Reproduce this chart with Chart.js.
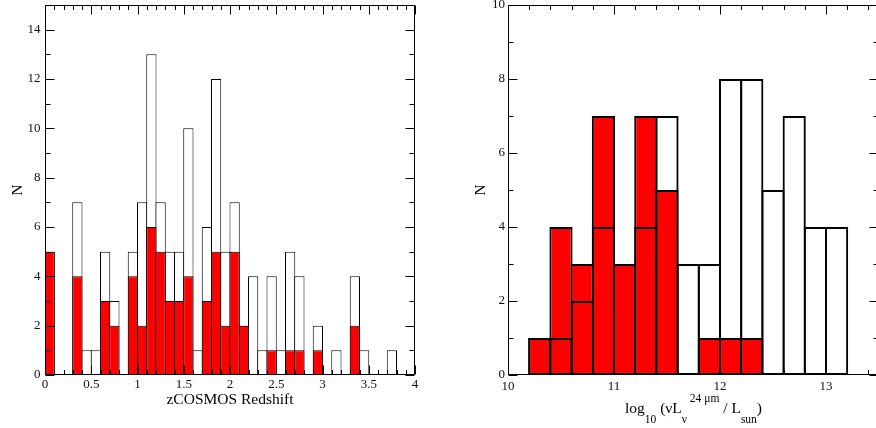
<!DOCTYPE html>
<html><head><meta charset="utf-8">
<script src="https://cdn.jsdelivr.net/npm/chart.js@4.4.1/dist/chart.umd.min.js"></script>
<style>
html,body{margin:0;padding:0;background:#fff;overflow:hidden;width:876px;height:428px;}
#c1{position:absolute;left:0;top:0;}
#c2{position:absolute;left:440px;top:0;}
</style></head><body>
<canvas id="c1" width="440" height="428"></canvas>
<canvas id="c2" width="445" height="428"></canvas>
<script>
// ---------- Left panel: zCOSMOS redshift histogram (bin width 0.1) ----------
const zBinCenters = [0.05,0.15,0.25,0.35,0.45,0.55,0.65,0.75,0.85,0.95,
                     1.05,1.15,1.25,1.35,1.45,1.55,1.65,1.75,1.85,1.95,
                     2.05,2.15,2.25,2.35,2.45,2.55,2.65,2.75,2.85,2.95,
                     3.05,3.15,3.25,3.35,3.45,3.55,3.65,3.75,3.85,3.95];
const zAll = [5,0,0,7,1,1,5,3,0,5, 7,13,7,5,5,10,1,6,12,5, 7,2,4,1,4,1,5,4,0,2, 0,1,0,4,1,0,0,1,0,0];
const zRed = [5,0,0,4,0,0,3,2,0,4, 2,6,5,3,3,4,0,3,5,2, 5,2,0,0,1,0,1,1,0,1, 0,0,0,2,0,0,0,0,0,0];
const zXTicks = [0,0.5,1,1.5,2,2.5,3,3.5,4];
const zYTicks = [0,2,4,6,8,10,12,14];

// ---------- Right panel: log10 luminosity histogram (bin width 0.2) ----------
const lBinCenters = [10.1,10.3,10.5,10.7,10.9,11.1,11.3,11.5,11.7,11.9,12.1,12.3,12.5,12.7,12.9,13.1];
const lAll = [0,1,1,2,4,3,4,7,3,3,8,8,5,7,4,4];
const lRed = [0,1,4,3,7,3,7,5,0,1,1,1,0,0,0,0];
const lXTicks = [10,11,12,13];
const lYTicks = [0,2,4,6,8,10];

const SERIF = "'Liberation Serif', 'Times New Roman', serif";

function framePlugin(minorX, minorY) {
  return {
    id: 'frameTicks',
    afterDatasetsDraw(chart) {
      const {ctx, chartArea: a, scales: {x, y}} = chart;
      const L = Math.round(a.left) + 0.5, R = Math.round(a.right) - 0.5;
      const T = Math.round(a.top) + 0.5, B = Math.round(a.bottom) - 0.5;
      ctx.save();
      ctx.strokeStyle = '#000';
      ctx.lineWidth = 1;
      ctx.beginPath();
      const xMajor = x.ticks.map(t => t.value);
      const yMajor = y.ticks.map(t => t.value);
      const isMajor = (arr, v) => arr.some(m => Math.abs(m - v) < 1e-6);
      for (let k = 0; ; k++) {
        const v = +(x.min + k * minorX).toFixed(6);
        if (v > x.max + 1e-9) break;
        const len = isMajor(xMajor, v) ? 9 : 4.5;
        const px = Math.round(x.getPixelForValue(v)) + 0.5;
        ctx.moveTo(px, B); ctx.lineTo(px, B - len);
        ctx.moveTo(px, T); ctx.lineTo(px, T + len);
      }
      for (let k = 0; ; k++) {
        const v = +(y.min + k * minorY).toFixed(6);
        if (v > y.max + 1e-9) break;
        const len = isMajor(yMajor, v) ? 9 : 5;
        const py = Math.round(y.getPixelForValue(v)) + 0.5;
        ctx.moveTo(L, py); ctx.lineTo(L + len, py);
        ctx.moveTo(R, py); ctx.lineTo(R - len, py);
      }
      ctx.stroke();
      ctx.beginPath();
      ctx.rect(L, T, R - L, B - T);
      ctx.stroke();
      ctx.restore();
    }
  };
}

function makeOptions(o) {
  return {
    responsive: false,
    devicePixelRatio: 1,
    animation: false,
    layout: { padding: { top: 5, right: o.padRight, bottom: 0, left: 0 } },
    plugins: { legend: { display: false }, tooltip: { enabled: false } },
    scales: {
      x: {
        type: 'linear', min: o.xMin, max: o.xMax, offset: false,
        grid: { display: false, drawTicks: false, offset: false },
        border: { display: false },
        afterBuildTicks: s => { s.ticks = o.xTicks.map(v => ({ value: v })); },
        afterFit: s => { s.height = 53; s.paddingLeft = 0; s.paddingRight = 0; s.paddingTop = 0; s.paddingBottom = 0; },
        ticks: { autoSkip: false, maxRotation: 0, padding: o.xPad, color: '#111',
                 font: { family: SERIF, size: 13 }, callback: v => String(v) },
        title: { display: !!o.xTitle, text: o.xTitle || '', color: '#000',
                 font: { family: SERIF, size: 15.5 }, padding: { top: 0, bottom: 18.5 } }
      },
      y: {
        type: 'linear', min: 0, max: o.yMax,
        grid: { display: false, drawTicks: false },
        border: { display: false },
        afterBuildTicks: s => { s.ticks = o.yTicks.map(v => ({ value: v })); },
        afterFit: s => { s.width = o.yWidth; s.paddingLeft = 0; s.paddingRight = 0; s.paddingTop = 0; s.paddingBottom = 0; },
        ticks: { autoSkip: false, padding: o.yPad, color: '#111',
                 font: { family: SERIF, size: 13 }, callback: v => String(v) },
        title: { display: true, text: 'N', color: '#000',
                 font: { family: SERIF, size: 15 }, padding: { top: o.nPad, bottom: 0 } }
      }
    }
  };
}

// Left chart
new Chart(document.getElementById('c1'), {
  type: 'bar',
  data: {
    labels: zBinCenters,
    datasets: [
      { label: 'red', data: zRed, backgroundColor: '#ff0000', borderColor: '#000', borderWidth: 1,
        borderSkipped: false, grouped: false, order: 0, barPercentage: 1.108, categoryPercentage: 1 },
      { label: 'all', data: zAll, backgroundColor: '#ffffff', borderColor: '#000', borderWidth: 1,
        borderSkipped: false, grouped: false, order: 1, barPercentage: 1.108, categoryPercentage: 1 }
    ]
  },
  options: makeOptions({ padRight: 25, xMin: 0, xMax: 4, xTicks: zXTicks, xPad: 2,
    xTitle: 'zCOSMOS Redshift', yMax: 15, yTicks: zYTicks, yWidth: 45, yPad: 4.5, nPad: 9.3 }),
  plugins: [framePlugin(0.1, 1)]
});

// Right chart: custom axis title with sub/superscripts
const lumTitle = [
  { t: 'log', s: 'main' }, { t: '10', s: 'sub' }, { t: ' (\u03bdL', s: 'main' },
  { t: '\u03bd', s: 'sub' }, { t: ' 24 \u03bcm', s: 'sup' }, { t: ' / L', s: 'main' },
  { t: 'sun', s: 'sub' }, { t: ')', s: 'main' }
];
const lumTitlePlugin = {
  id: 'lumTitle',
  afterDraw(chart) {
    const ctx = chart.ctx;
    const a = chart.chartArea;
    const fontFor = s => (s === 'main' ? '15.5px ' : '11.5px ') + SERIF;
    const dy = { main: 0, sub: 10, sup: -10.5 };
    ctx.save();
    ctx.fillStyle = '#000';
    ctx.textBaseline = 'alphabetic';
    ctx.textAlign = 'left';
    let total = 0;
    const widths = lumTitle.map(p => { ctx.font = fontFor(p.s); const w = ctx.measureText(p.t).width; total += w; return w; });
    let x = (a.left + a.right) / 2 - total / 2;
    const base = 412.5;
    lumTitle.forEach((p, i) => {
      ctx.font = fontFor(p.s);
      ctx.fillText(p.t, x, base + dy[p.s]);
      x += widths[i];
    });
    ctx.restore();
  }
};

new Chart(document.getElementById('c2'), {
  type: 'bar',
  data: {
    labels: lBinCenters,
    datasets: [
      { label: 'all', data: lAll, backgroundColor: 'rgba(0,0,0,0)', borderColor: '#000', borderWidth: 2,
        borderSkipped: false, grouped: false, order: 0, barPercentage: 1.094, categoryPercentage: 1 },
      { label: 'red', data: lRed, backgroundColor: '#ff0000', borderColor: '#000', borderWidth: 2,
        borderSkipped: false, grouped: false, order: 1, barPercentage: 1.094, categoryPercentage: 1 }
    ]
  },
  options: makeOptions({ padRight: 6, xMin: 10, xMax: 13.5, xTicks: lXTicks, xPad: 3.5,
    xTitle: null, yMax: 10, yTicks: lYTicks, yWidth: 68, yPad: 3, nPad: 32 }),
  plugins: [framePlugin(0.2, 1), lumTitlePlugin]
});
</script>
</body></html>
